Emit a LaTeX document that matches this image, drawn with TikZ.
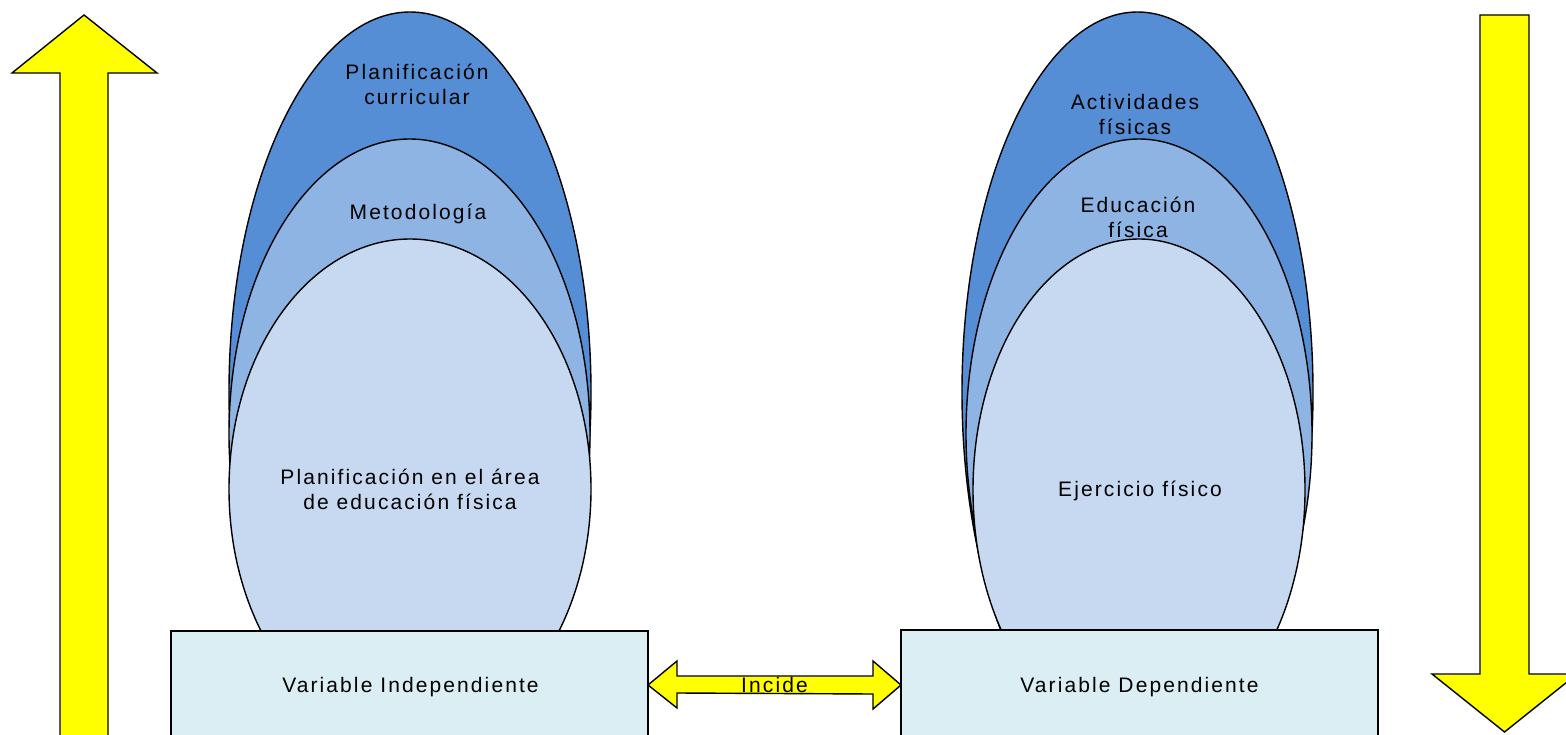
\documentclass[tikz,border=0pt]{standalone}
\usepackage{fontspec}
\setmainfont{Liberation Sans}[LetterSpace=10]
\usetikzlibrary{shapes.geometric,calc}
\definecolor{darkb}{HTML}{558ED5}
\definecolor{midb}{HTML}{8EB4E3}
\definecolor{lightb}{HTML}{C6D9F1}
\definecolor{boxb}{HTML}{DBEEF4}
\definecolor{yell}{HTML}{FFFF00}
\begin{document}
\begin{tikzpicture}[x=1pt,y=-1pt,
  ell/.style={ellipse, draw=black, line width=1.4pt, inner sep=0pt},
  varbox/.style={rectangle, draw=black, line width=1.4pt, fill=boxb, minimum width=477pt, minimum height=108pt, inner sep=0pt},
  lab/.style={align=center, font=\fontsize{21}{25}\selectfont, text=black, inner sep=0pt},
  yarrow/.style={draw=black, line width=1.4pt, fill=yell, line join=miter}]
\useasboundingbox (0,0) rectangle (1566,735);
\clip (0,0) rectangle (1566,735);
\fill[white] (0,0) rectangle (1566,735);

% left vertical arrow (up)
\draw[yarrow] (60,760) -- (60,73) -- (12,73) -- (84,15) -- (157,73) -- (108,73) -- (108,760) -- cycle;
% right vertical arrow (down)
\draw[yarrow] (1480,15) -- (1529,15) -- (1529,674) -- (1577,674) -- (1504.5,732) -- (1432,674) -- (1480,674) -- cycle;

% left ellipses
\node[ell, fill=darkb, minimum width=362pt, minimum height=760pt] (l1) at (410,392) {};
\node[ell, fill=midb, minimum width=361pt, minimum height=590pt] (l2) at (409.5,434) {};
\node[ell, fill=lightb, minimum width=362pt, minimum height=500pt] (l3) at (410,489) {};
% right ellipses
\node[ell, fill=darkb, minimum width=351pt, minimum height=760pt] (r1) at (1137.5,392) {};
\node[ell, fill=midb, minimum width=346pt, minimum height=590pt] (r2) at (1139,434) {};
\node[ell, fill=lightb, minimum width=332pt, minimum height=502pt] (r3) at (1139,490) {};

% labels in ellipses
\node[lab] (tl1) at (417,84) {Planificación\\curricular};
\node[lab] (tl2) at (418,214) {Metodología};
\node[lab] (tl3) at (410,489) {Planificación en el área\\de educación física};
\node[lab] (tr1) at (1135,114) {Actividades\\físicas};
\node[lab] (tr2) at (1138,217) {Educación\\física};
\node[lab] (tr3) at (1140,491) {Ejercicio físico};

% variable boxes
\node[varbox] (vi) at (409.5,685) {};
\node[varbox] (vd) at (1139.5,684) {};
\node[lab] (tvi) at ($(vi.center)+(1,2)$) {Variable Independiente};
\node[lab] (tvd) at ($(vd.center)+(0,3)$) {Variable Dependiente};

% double arrow between boxes
\coordinate (ae) at ($(vi.east)+(-0.7,0)$);
\coordinate (aw) at ($(vd.west)+(0.7,1)$);
\draw[yarrow] (ae) -- ++(29,-24) -- ++(0,15) -- ($(aw)+(-28,-9)$) -- ++(0,-15) -- (aw) -- ++(-28,24) -- ++(0,-15) -- ($(ae)+(29,8)$) -- ++(0,15) -- cycle;
\node[lab] (inc) at ($(ae)!0.5!(aw)+(0,0)$) {Incide};
\end{tikzpicture}
\end{document}
